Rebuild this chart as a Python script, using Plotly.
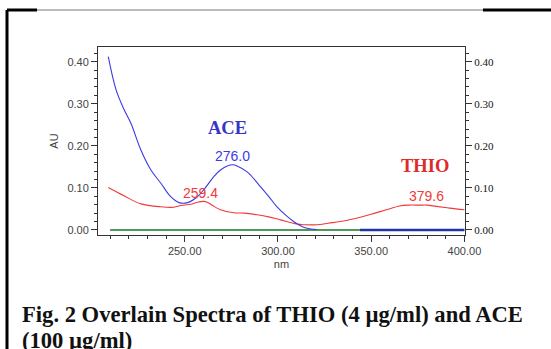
import plotly.graph_objects as go

# ---- data ----
ace_nm = [209, 213.2, 217.6, 221.2, 226.5, 231.8, 237.2, 242.5, 247, 251.4, 256.8,
          261, 265.6, 269, 272.8, 276, 278.1, 283.5, 287, 290.6, 295, 299.5, 304,
          308.4, 312, 315.5, 320.9]
ace_au = [0.412, 0.333, 0.285, 0.253, 0.190, 0.143, 0.111, 0.079, 0.065, 0.065, 0.079,
          0.100, 0.127, 0.142, 0.152, 0.155, 0.152, 0.138, 0.122, 0.103, 0.080, 0.055, 0.036,
          0.020, 0.010, 0.004, 0.001]

thio_nm = [209, 217.6, 226.5, 237.2, 244.3, 247.9, 253.2, 256.8, 260, 262.1, 265, 269.2,
           276.3, 282, 288.8, 295, 301.3, 310.2, 319, 322.6, 327, 333.3, 339, 345.7,
           352, 358.2, 365.3, 370, 376, 380, 384.9, 392, 400]
thio_au = [0.101, 0.081, 0.062, 0.055, 0.054, 0.058, 0.061, 0.066, 0.068, 0.066, 0.058, 0.048,
           0.041, 0.040, 0.036, 0.031, 0.024, 0.014, 0.012, 0.013, 0.016, 0.020, 0.025, 0.032,
           0.040, 0.048, 0.057, 0.059, 0.059, 0.059, 0.056, 0.052, 0.048]

base_green_nm = [210, 344]
base_green_au = [0.0, 0.0]
base_blue_nm = [344, 400]
base_blue_au = [0.0, 0.0]

x_ticks = [250, 300, 350, 400]
y_ticks = [0.0, 0.1, 0.2, 0.3, 0.4]

caption_line1 = "Fig. 2 Overlain Spectra of THIO (4 µg/ml) and ACE"
caption_line2 = "(100 µg/ml)"

# ---- figure ----
fig = go.Figure()
fig.add_trace(go.Scatter(x=base_green_nm, y=base_green_au, mode="lines",
                         line=dict(color="#4f9a5a", width=2), showlegend=False))
fig.add_trace(go.Scatter(x=base_blue_nm, y=base_blue_au, mode="lines",
                         line=dict(color="#1f36a8", width=2.5), showlegend=False))
fig.add_trace(go.Scatter(x=thio_nm, y=thio_au, mode="lines", line_shape="spline",
                         line=dict(color="#ee3b3b", width=1.1), showlegend=False))
fig.add_trace(go.Scatter(x=ace_nm, y=ace_au, mode="lines", line_shape="spline",
                         line=dict(color="#3b3be6", width=1.1), showlegend=False))
# invisible trace for the right axis
fig.add_trace(go.Scatter(x=[ace_nm[0]], y=[ace_au[0]], yaxis="y2", mode="lines",
                         line=dict(width=0), hoverinfo="skip", showlegend=False))

yr = [-0.012, 0.435]
tickfont = dict(family="Liberation Sans, Arial", size=11, color="#444")

fig.update_layout(
    width=551, height=349,
    margin=dict(l=98, r=86, t=47, b=114),
    paper_bgcolor="white", plot_bgcolor="white",
    xaxis=dict(range=[203.5, 400.3], tickvals=x_ticks, tickformat=".2f",
               ticks="outside", ticklen=6, tickcolor="#333", tickwidth=1,
               minor=dict(dtick=10, tick0=210, ticks="outside", ticklen=3, tickcolor="#333"),
               showgrid=False, zeroline=False, showline=True, linecolor="#333", linewidth=1,
               mirror=True, tickfont=tickfont,
               title=dict(text="nm", font=dict(family="Liberation Sans, Arial", size=11, color="#444"), standoff=4)),
    yaxis=dict(range=yr, tickvals=y_ticks, tickformat=".2f",
               ticks="outside", ticklen=6, tickcolor="#333",
               minor=dict(dtick=0.02, tick0=0, ticks="outside", ticklen=3, tickcolor="#333"),
               showgrid=False, zeroline=False, showline=True, linecolor="#333", linewidth=1,
               mirror=True, tickfont=tickfont,
               title=dict(text="AU", font=dict(family="Liberation Sans, Arial", size=11, color="#444"), standoff=6)),
    yaxis2=dict(range=yr, tickvals=y_ticks, tickformat=".2f", overlaying="y", side="right",
                ticks="outside", ticklen=6, tickcolor="#333",
                minor=dict(dtick=0.02, tick0=0, ticks="outside", ticklen=3, tickcolor="#333"),
                showgrid=False, zeroline=False, showline=False,
                tickfont=dict(family="Liberation Serif, Times New Roman", size=11, color="#111")),
)

# peak annotations
ann = [
    dict(x=272.9, y=0.242, text="<b>ACE</b>", font=dict(family="Liberation Serif, Times New Roman", size=18.5, color="#3535c8")),
    dict(x=275.4, y=0.176, text="276.0", font=dict(family="Liberation Sans, Arial", size=14, color="#3b3be6")),
    dict(x=258.5, y=0.088, text="259.4", font=dict(family="Liberation Sans, Arial", size=14, color="#ee3b3b")),
    dict(x=378.9, y=0.152, text="<b>THIO</b>", font=dict(family="Liberation Serif, Times New Roman", size=18.5, color="#e02a2a")),
    dict(x=379.8, y=0.081, text="379.6", font=dict(family="Liberation Sans, Arial", size=14, color="#ee3b3b")),
]
for a in ann:
    fig.add_annotation(xref="x", yref="y", showarrow=False, **a)

# caption
fig.add_annotation(xref="paper", yref="paper", x=(20 - 98) / 367, y=(235 - 314) / 188,
                   xanchor="left", yanchor="middle", showarrow=False,
                   text="<b>" + caption_line1 + "</b>",
                   font=dict(family="Liberation Serif, Times New Roman", size=22.6, color="#111"))
fig.add_annotation(xref="paper", yref="paper", x=(20 - 98) / 367, y=(235 - 340) / 188,
                   xanchor="left", yanchor="middle", showarrow=False,
                   text="<b>" + caption_line2 + "</b>",
                   font=dict(family="Liberation Serif, Times New Roman", size=22.6, color="#111"))

# page border lines (table-cell style)
def px_x(p):
    return (p - 98) / 367

def px_y(p):
    return (235 - p) / 188

borders = [
    (7, 10, 7, 349, 3, "#000"),
    (7, 10, 37, 10, 3, "#000"),
    (37, 10, 483, 10, 1, "#777"),
    (483, 10, 551, 10, 3, "#000"),
]
for x0, y0, x1, y1, w, c in borders:
    fig.add_shape(type="line", xref="paper", yref="paper",
                  x0=px_x(x0), y0=px_y(y0), x1=px_x(x1), y1=px_y(y1),
                  line=dict(color=c, width=w))

fig.write_html("out.html", config={"displayModeBar": False},
               post_script="document.body.style.margin='0';document.body.style.overflow='hidden';")
